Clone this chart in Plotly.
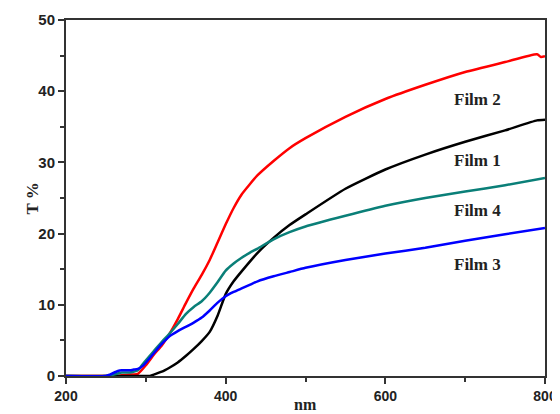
import plotly.graph_objects as go

# Film 1 (black)
nm1 = [200, 300, 305, 310, 320, 330, 340, 350, 360, 370, 380, 390, 400, 410, 420, 440, 460, 480, 500, 550, 600, 650, 700, 750, 790, 800]
t1 = [0, 0, 0, 0.2, 0.6, 1.2, 1.9, 2.8, 3.8, 4.9, 6.2, 8.5, 11.5, 13.3, 14.7, 17.3, 19.4, 21.2, 22.7, 26.3, 29.0, 31.1, 32.9, 34.5, 35.9, 36.0]
# Film 2 (red)
nm2 = [200, 260, 270, 280, 290, 300, 310, 320, 330, 340, 350, 360, 370, 380, 390, 400, 410, 420, 430, 440, 460, 480, 500, 550, 600, 650, 700, 750, 790, 795, 800]
t2 = [0, 0, 0.1, 0.2, 0.3, 1.5, 3.0, 4.3, 6.0, 8.0, 10.2, 12.3, 14.2, 16.3, 18.8, 21.3, 23.6, 25.5, 26.9, 28.2, 30.2, 32.0, 33.4, 36.4, 38.9, 40.9, 42.7, 44.1, 45.2, 44.8, 44.9]
# Film 3 (blue)
nm3 = [200, 250, 255, 265, 270, 280, 285, 290, 297, 310, 320, 330, 340, 350, 360, 370, 380, 390, 400, 410, 420, 430, 440, 460, 480, 500, 550, 600, 650, 700, 750, 800]
t3 = [0, 0, 0.2, 0.7, 0.8, 0.8, 0.9, 1.0, 1.5, 3.2, 4.5, 5.6, 6.3, 6.9, 7.5, 8.2, 9.2, 10.3, 11.2, 11.8, 12.3, 12.8, 13.3, 14.0, 14.6, 15.2, 16.3, 17.2, 18.0, 19.0, 19.9, 20.8]
# Film 4 (teal)
nm4 = [200, 250, 260, 270, 280, 290, 297, 310, 320, 330, 340, 350, 360, 370, 380, 390, 400, 410, 420, 430, 440, 460, 480, 500, 550, 600, 650, 700, 750, 800]
t4 = [0, 0, 0.2, 0.5, 0.5, 0.8, 1.8, 3.5, 4.8, 6.0, 7.3, 8.7, 9.7, 10.5, 11.7, 13.2, 14.8, 15.8, 16.6, 17.3, 17.9, 19.2, 20.2, 21.0, 22.5, 23.9, 25.0, 25.9, 26.8, 27.8]

labels = ["Film 2", "Film 1", "Film 4", "Film 3"]
label_x = [716, 716, 716, 716]
label_y = [38.8, 30.2, 23.3, 15.6]

fig = go.Figure()
series = [(nm2, t2, "#ff0000", "Film 2"), (nm1, t1, "#000000", "Film 1"),
          (nm4, t4, "#0a7f78", "Film 4"), (nm3, t3, "#0000ff", "Film 3")]
for x, y, c, n in series:
    fig.add_trace(go.Scatter(x=x, y=y, mode="lines", name=n,
                             line=dict(color=c, width=2.5, shape="spline", smoothing=0.5)))

for t, x, y in zip(labels, label_x, label_y):
    fig.add_annotation(x=x, y=y, text="<b>%s</b>" % t, showarrow=False,
                       font=dict(family="Liberation Serif", size=17, color="#222"))

fig.add_annotation(xref="paper", yref="paper", x=0.5, y=-0.079, text="<b>nm</b>",
                   showarrow=False, yanchor="middle",
                   font=dict(family="Liberation Serif", size=16, color="#222"))
fig.add_annotation(xref="paper", yref="paper", x=-0.094, y=0.5, text="<b>T %</b>",
                   showarrow=False, textangle=-90,
                   font=dict(family="Liberation Serif", size=17, color="#222"))

axis_common = dict(showgrid=False, zeroline=False, showline=True, linecolor="#333",
                   linewidth=2, mirror=True, ticks="outside", ticklen=6, tickwidth=1.5,
                   tickcolor="#333", automargin=False, ticklabeloverflow="allow")
fig.update_xaxes(range=[200, 800], tickvals=[200, 400, 600, 800],
                 ticktext=["<b>200</b>", "<b>400</b>", "<b>600</b>", "<b>800</b>"],
                 tickfont=dict(family="Liberation Sans", size=14, color="#222"),
                 minor=dict(tickvals=[300, 500, 700], ticks="outside", ticklen=4, tickcolor="#333"),
                 **axis_common)
fig.update_yaxes(range=[0, 50], tickvals=[0, 10, 20, 30, 40, 50],
                 ticktext=["<b>%d</b>" % v for v in [0, 10, 20, 30, 40, 50]],
                 tickfont=dict(family="Liberation Sans", size=15, color="#222"),
                 minor=dict(tickvals=[5, 15, 25, 35, 45], ticks="outside", ticklen=4, tickcolor="#333"),
                 **axis_common)
# page body has an 8px default margin; size the figure so the plot box lands where the reference has it
fig.update_layout(width=552, height=406, margin=dict(l=58, r=15, t=12, b=38, autoexpand=False),
                  paper_bgcolor="white", plot_bgcolor="white", showlegend=False)
fig.write_html("out.html")
